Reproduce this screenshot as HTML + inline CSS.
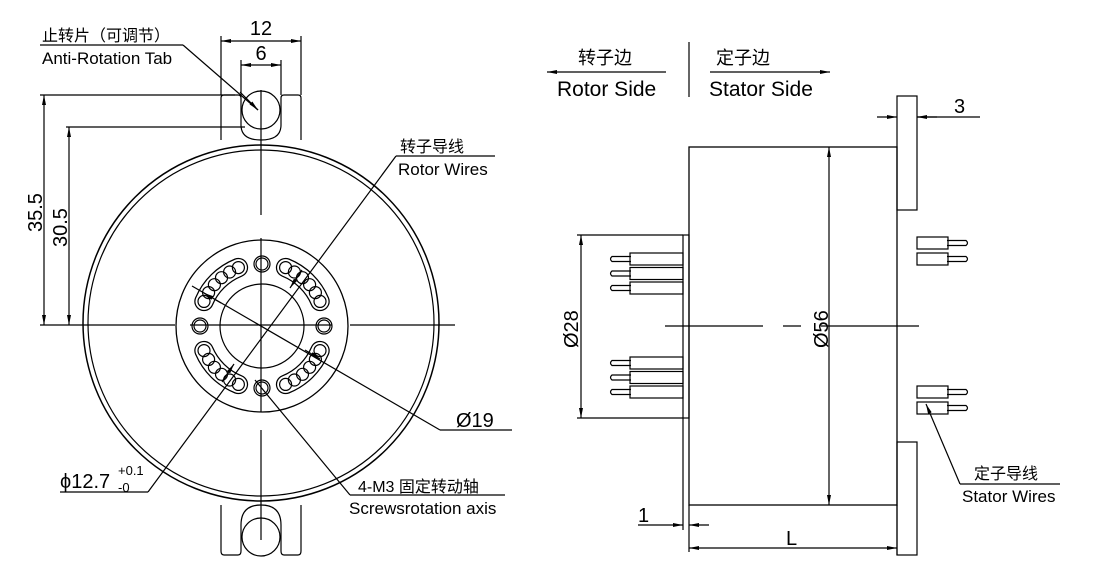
<!DOCTYPE html>
<html><head><meta charset="utf-8"><style>
html,body{margin:0;padding:0;background:#fff;}
svg{display:block;}
text{font-family:"Liberation Sans","Noto Sans CJK SC",sans-serif;fill:#000;}
</style></head><body>
<svg width="1104" height="578" viewBox="0 0 1104 578" xmlns="http://www.w3.org/2000/svg">
<defs>
<marker id="a" viewBox="0 0 10 4" refX="10" refY="2" markerWidth="10" markerHeight="4" orient="auto-start-reverse" markerUnits="userSpaceOnUse"><path d="M0,0 L10,2 L0,4 z" fill="#000"/></marker>
</defs>
<g stroke="#000" fill="none" stroke-width="1.2">
<!-- LEFT VIEW -->
<path d="M221,140 V98 Q221,95 224,95 H238 Q241,95 241,98 M281,98 Q281,95 284,95 H298 Q301,95 301,98 V140"/>
<path d="M241,98 V125 Q241,140 261,140 Q281,140 281,125 V98"/>
<circle cx="261" cy="110" r="19"/>
<path d="M221,505 V551 Q221,555 224,555 H238 Q241,555 241,551 M281,551 Q281,555 284,555 H298 Q301,555 301,551 V505"/>
<path d="M241,551 V525 Q241,505 261,505 Q281,505 281,525 V551"/>
<circle cx="261" cy="537" r="19"/>
<circle cx="261" cy="323" r="178" fill="#fff" stroke-width="1.5"/>
<circle cx="261" cy="323" r="173"/>
<circle cx="262" cy="326" r="86" stroke-width="1.3"/>
<circle cx="262" cy="326" r="42"/>
<circle cx="262" cy="264" r="8"/><circle cx="262" cy="264" r="6"/>
<circle cx="262" cy="388" r="8"/><circle cx="262" cy="388" r="6"/>
<circle cx="200" cy="326" r="8"/><circle cx="200" cy="326" r="6"/>
<circle cx="324" cy="326" r="8"/><circle cx="324" cy="326" r="6"/>
<g id="slot">
<path d="M238.4,267.6 A63,63 0 0 0 204.0,301.4" stroke-width="19.5" stroke-linecap="round"/>
<path d="M238.4,267.6 A63,63 0 0 0 204.0,301.4" stroke="#fff" stroke-width="17" stroke-linecap="round"/>
<circle cx="238.4" cy="267.6" r="6"/><circle cx="229.6" cy="272" r="6"/><circle cx="221.5" cy="277.7" r="6"/><circle cx="214.4" cy="284.7" r="6"/><circle cx="208.6" cy="292.6" r="6"/><circle cx="204" cy="301.4" r="6"/>
</g>
<use href="#slot" transform="translate(524,0) scale(-1,1)"/>
<use href="#slot" transform="translate(0,652) scale(1,-1)"/>
<use href="#slot" transform="translate(524,652) scale(-1,-1)"/>
<line x1="261" y1="90" x2="261" y2="215"/>
<line x1="261" y1="238" x2="261" y2="412"/>
<line x1="261" y1="430" x2="261" y2="540"/>
<line x1="40" y1="325" x2="175" y2="325"/>
<line x1="190" y1="325" x2="332" y2="325"/>
<line x1="350" y1="325" x2="455" y2="325"/>
<line x1="396" y1="156" x2="148" y2="492"/>
<line x1="396" y1="156" x2="495" y2="156"/>
<line x1="148" y1="492" x2="60" y2="492"/>
<line x1="302" y1="270" x2="290" y2="288" marker-end="url(#a)"/>
<line x1="222" y1="382" x2="234" y2="364" marker-end="url(#a)"/>
<line x1="192" y1="286" x2="440" y2="430"/>
<line x1="440" y1="430" x2="512" y2="430"/>
<line x1="221" y1="303" x2="204" y2="293" marker-end="url(#a)"/>
<line x1="305" y1="350" x2="320" y2="359" marker-end="url(#a)"/>
<line x1="255" y1="380" x2="350" y2="495"/>
<line x1="350" y1="495" x2="505" y2="495"/>
<line x1="183" y1="45" x2="258" y2="110"/>
<line x1="40" y1="45" x2="183" y2="45"/>
<line x1="240" y1="92" x2="258" y2="110" marker-end="url(#a)"/>
<line x1="221" y1="36" x2="221" y2="95"/><line x1="301" y1="36" x2="301" y2="95"/>
<line x1="221" y1="41" x2="301" y2="41" marker-start="url(#a)" marker-end="url(#a)"/>
<line x1="241" y1="60" x2="241" y2="95"/><line x1="281" y1="60" x2="281" y2="95"/>
<line x1="241" y1="65" x2="281" y2="65" marker-start="url(#a)" marker-end="url(#a)"/>
<line x1="40" y1="95" x2="235" y2="95"/>
<line x1="66" y1="127" x2="245" y2="127"/>
<line x1="44" y1="95" x2="44" y2="325" marker-start="url(#a)" marker-end="url(#a)"/>
<line x1="69" y1="127" x2="69" y2="325" marker-start="url(#a)" marker-end="url(#a)"/>

<!-- RIGHT VIEW -->
<line x1="689" y1="42" x2="689" y2="97"/>
<line x1="547" y1="72" x2="666" y2="72" marker-start="url(#a)"/>
<line x1="710" y1="72" x2="830" y2="72" marker-end="url(#a)"/>
<rect x="689" y="147" width="208" height="358" stroke-width="1.3"/>
<rect x="897" y="96" width="20" height="114"/>
<rect x="897" y="442" width="20" height="113"/>
<rect x="683" y="235" width="6" height="183"/>
<g id="lw">
<rect x="630" y="253" width="53" height="12"/>
<path d="M631,256.5 H612 Q609,259 612,261.5 H631"/>
</g>
<use href="#lw" transform="translate(0,14.5)"/>
<use href="#lw" transform="translate(0,29)"/>
<use href="#lw" transform="translate(0,104)"/>
<use href="#lw" transform="translate(0,118.5)"/>
<use href="#lw" transform="translate(0,133)"/>
<g id="rw">
<rect x="917" y="237" width="31" height="12"/>
<path d="M947,240.5 H966 Q969,243 966,245.5 H947"/>
</g>
<use href="#rw" transform="translate(0,16)"/>
<use href="#rw" transform="translate(0,149)"/>
<use href="#rw" transform="translate(0,165)"/>
<line x1="665" y1="326" x2="763" y2="326"/>
<line x1="783" y1="326" x2="801" y2="326"/>
<line x1="821" y1="326" x2="919" y2="326"/>
<line x1="577" y1="235" x2="683" y2="235"/>
<line x1="577" y1="418" x2="683" y2="418"/>
<line x1="581" y1="235" x2="581" y2="418" marker-start="url(#a)" marker-end="url(#a)"/>
<line x1="829" y1="147" x2="829" y2="505" marker-start="url(#a)" marker-end="url(#a)"/>
<line x1="877" y1="117" x2="897" y2="117" marker-end="url(#a)"/>
<line x1="937" y1="117" x2="917" y2="117" marker-end="url(#a)"/>
<line x1="917" y1="117" x2="980" y2="117"/>
<line x1="683" y1="418" x2="683" y2="530"/>
<line x1="689" y1="505" x2="689" y2="552"/>
<line x1="638" y1="525" x2="683" y2="525" marker-end="url(#a)"/>
<line x1="709" y1="525" x2="689" y2="525" marker-end="url(#a)"/>
<line x1="897" y1="505" x2="897" y2="555"/>
<line x1="689" y1="548" x2="897" y2="548" marker-start="url(#a)" marker-end="url(#a)"/>
<line x1="960" y1="484" x2="926" y2="404" marker-end="url(#a)"/>
<line x1="960" y1="484" x2="1060" y2="484"/>
</g>
<text x="42" y="41" font-size="16">止转片（可调节）</text>
<text x="42" y="64" font-size="17">Anti-Rotation Tab</text>
<text x="261" y="35" font-size="20" text-anchor="middle">12</text>
<text x="261" y="60" font-size="20" text-anchor="middle">6</text>
<text transform="translate(42,232) rotate(-90)" font-size="20">35.5</text>
<text transform="translate(67,247) rotate(-90)" font-size="20">30.5</text>
<text x="400" y="152" font-size="16">转子导线</text>
<text x="398" y="175" font-size="17">Rotor Wires</text>
<text x="456" y="427" font-size="20">Ø19</text>
<text x="60" y="488" font-size="20">ϕ12.7</text>
<text x="118" y="475" font-size="13">+0.1</text>
<text x="118" y="492" font-size="13">-0</text>
<text x="358" y="492" font-size="16">4-M3 固定转动轴</text>
<text x="349" y="514" font-size="17">Screwsrotation axis</text>
<text x="578" y="64" font-size="18">转子边</text>
<text x="557" y="96" font-size="21">Rotor Side</text>
<text x="716" y="64" font-size="18">定子边</text>
<text x="709" y="96" font-size="21">Stator Side</text>
<text x="954" y="113" font-size="20">3</text>
<text transform="translate(578,348) rotate(-90)" font-size="20">Ø28</text>
<text transform="translate(828,348) rotate(-90)" font-size="20">Ø56</text>
<text x="974" y="479" font-size="16">定子导线</text>
<text x="962" y="502" font-size="17">Stator Wires</text>
<text x="638" y="522" font-size="20">1</text>
<text x="786" y="545" font-size="20">L</text>
</svg>
</body></html>
